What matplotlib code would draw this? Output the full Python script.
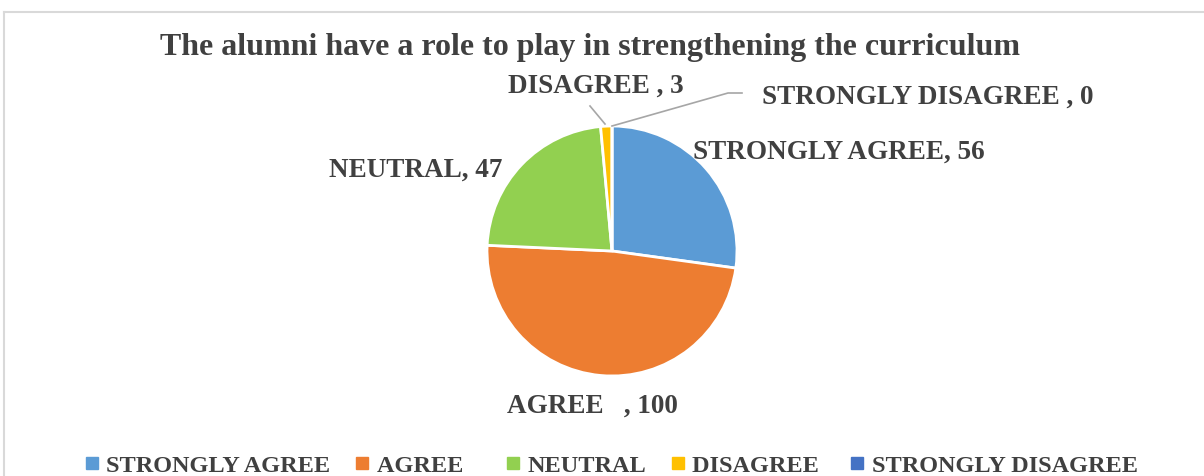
import matplotlib.pyplot as plt
from matplotlib.lines import Line2D

categories  =   ["STRONGLY AGREE", "AGREE   ", "NEUTRAL", "DISAGREE ", "STRONGLY DISAGREE "]
values      =   [56, 100, 47, 3, 0]
colors      =   ["#5B9BD5", "#ED7D31", "#92D050", "#FFC000", "#4472C4"]
title       =   "The alumni have a role to play in strengthening the curriculum"

W, H    =   1204, 477
txtc    =   "#404040"

plt.rcParams.update({"font.family": "Liberation Serif", "font.weight": "bold"})
fig     =   plt.figure(figsize = (W/100, H/100), dpi = 100)
ax      =   fig.add_axes([0, 0, 1, 1])

# chart frame (top and left edges visible)
ax.plot([4, W], [H-13, H-13], color = "#d9d9d9", lw = 1.5)
ax.plot([4, 4], [H-13, 0], color = "#d9d9d9", lw = 1.5)

ax.text(590, H-48, title, ha = "center", va = "center", fontsize = 23, color = txtc)

cx, cy, r   =   612, H-252, 125
ax.pie(values, colors = colors, startangle = 90, counterclock = False,
       center = (cx, cy), radius = r, frame = True,
       wedgeprops = {"edgecolor": "white", "linewidth": 2})
ax.set_xlim(0, W)
ax.set_ylim(0, H)
ax.set_aspect("equal")
ax.axis("off")

lab = lambda i: categories[i] + ", " + str(values[i])
fs  = 19.5
ax.text(693, H-152, lab(0), ha = "left", va = "center", fontsize = fs, color = txtc)
ax.text(507, H-406, lab(1), ha = "left", va = "center", fontsize = fs, color = txtc)
ax.text(502, H-170, lab(2), ha = "right", va = "center", fontsize = fs, color = txtc)
ax.text(508, H-86, lab(3), ha = "left", va = "center", fontsize = fs, color = txtc)
ax.text(762, H-97, lab(4), ha = "left", va = "center", fontsize = fs, color = txtc)

# leader lines
ax.plot([590, 605], [H-107, H-125], color = "#a6a6a6", lw = 1.2)
ax.plot([612, 728, 742], [H-127, H-94, H-94], color = "#a6a6a6", lw = 1.2)

handles = [Line2D([], [], marker = "s", ls = "", color = c, markersize = 8) for c in colors]
leg = ax.legend(handles, categories, loc = "center",
                bbox_to_anchor = (614/W, (H-466)/H), ncol = 5, frameon = False,
                fontsize = 17.5, handlelength = 0.6, handletextpad = 0.3, columnspacing = 1.0)
for t in leg.get_texts():
    t.set_color(txtc)

plt.savefig("out.png", dpi = 100)
